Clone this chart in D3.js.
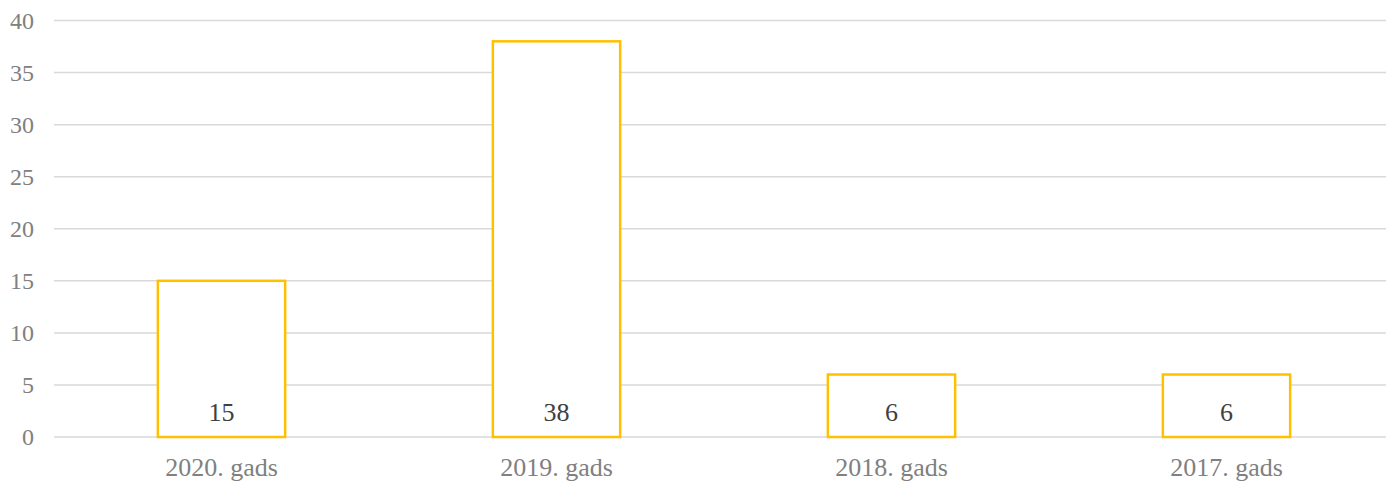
<!DOCTYPE html>
<html>
<head>
<meta charset="utf-8">
<script src="https://cdn.jsdelivr.net/npm/d3@7"></script>
<style>
  body { margin: 0; background: #fff; }
  svg { display: block; }
</style>
</head>
<body>
<svg></svg>
<script>
// chart data
let categories = ['2020. gads', '2019. gads', '2018. gads', '2017. gads'];
let values = [15, 38, 6, 6];
let yTicks = [0, 5, 10, 15, 20, 25, 30, 35, 40];

let width = 1386;
let height = 481;
let plotLeft = 54;
let plotTop = 20.5;
let plotBottom = 437;
let serif = '"Liberation Serif", "Times New Roman", serif';

let svg = d3.select('svg')
    .attr('width', width)
    .attr('height', height);

let xScale = d3.scaleBand()
    .domain(categories)
    .range([plotLeft, plotLeft + 1340])
    .paddingInner(0.62)
    .paddingOuter(0.31);

let yScale = d3.scaleLinear()
    .domain([0, 40])
    .range([plotBottom, plotTop]);

// gridlines
svg.append('g')
    .selectAll('line')
    .data(yTicks)
    .enter()
    .append('line')
    .attr('x1', plotLeft)
    .attr('x2', width)
    .attr('y1', d => yScale(d))
    .attr('y2', d => yScale(d))
    .style('stroke', '#d9d9d9')
    .style('stroke-width', 1.5);

// y axis labels
let yAxis = d3.axisLeft(yScale).tickValues(yTicks).tickSize(0).tickPadding(0);
let gy = svg.append('g')
    .attr('transform', 'translate(34, 0)')
    .call(yAxis);
gy.select('.domain').remove();
gy.selectAll('text')
    .style('font-family', serif)
    .style('font-size', '24px')
    .style('fill', '#808080');

// bars
svg.selectAll('rect.bar')
    .data(values)
    .enter()
    .append('rect')
    .attr('class', 'bar')
    .attr('x', (d, i) => xScale(categories[i]))
    .attr('y', d => yScale(d))
    .attr('width', xScale.bandwidth())
    .attr('height', d => plotBottom - yScale(d))
    .style('fill', '#fff')
    .style('stroke', '#ffc000')
    .style('stroke-width', 2.5);

// value labels
svg.selectAll('text.val')
    .data(values)
    .enter()
    .append('text')
    .attr('class', 'val')
    .attr('x', (d, i) => xScale(categories[i]) + xScale.bandwidth() / 2)
    .attr('y', 420.5)
    .attr('text-anchor', 'middle')
    .style('font-family', serif)
    .style('font-size', '26px')
    .style('fill', '#404040')
    .text(d => d);

// x axis labels
let xAxis = d3.axisBottom(xScale).tickSize(0).tickPadding(0);
let gx = svg.append('g')
    .attr('transform', 'translate(0, ' + (plotBottom + 21) + ')')
    .call(xAxis);
gx.select('.domain').remove();
gx.selectAll('text')
    .style('font-family', serif)
    .style('font-size', '26px')
    .style('fill', '#808080');
</script>
</body>
</html>
